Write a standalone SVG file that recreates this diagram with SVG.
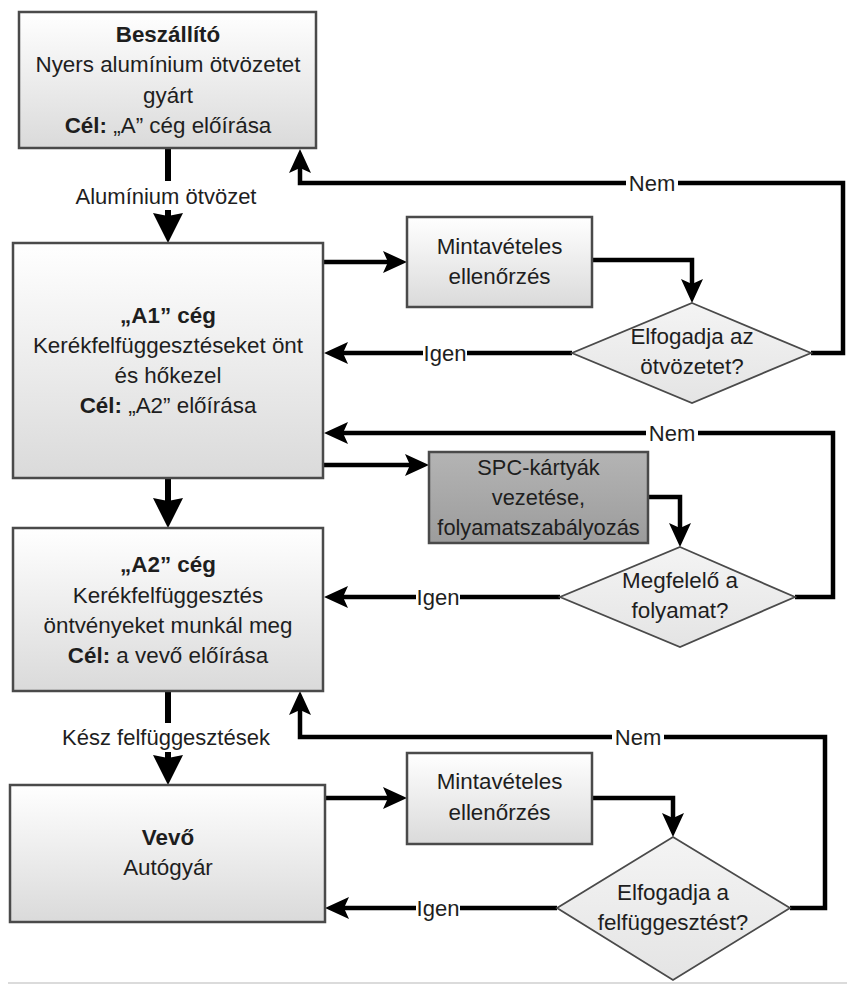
<svg xmlns="http://www.w3.org/2000/svg" width="847" height="985" viewBox="0 0 847 985">
  <defs>
    <linearGradient id="boxFill" x1="0" y1="0" x2="0" y2="1">
      <stop offset="0" stop-color="#ffffff"/>
      <stop offset="1" stop-color="#dadada"/>
    </linearGradient>
    <linearGradient id="darkFill" x1="0" y1="0" x2="0" y2="1">
      <stop offset="0" stop-color="#b4b4b4"/>
      <stop offset="1" stop-color="#9c9c9c"/>
    </linearGradient>
    <linearGradient id="diaFill" x1="0" y1="0" x2="0" y2="1">
      <stop offset="0" stop-color="#f4f4f4"/>
      <stop offset="1" stop-color="#e4e4e4"/>
    </linearGradient>
    <marker id="headL" markerUnits="userSpaceOnUse" viewBox="0 0 30 30" markerWidth="30" markerHeight="30" refX="18" refY="15" orient="auto">
      <path d="M0,0 L30,15 L0,30 L3,15 z" fill="#000"/>
    </marker>
    <marker id="headM" markerUnits="userSpaceOnUse" viewBox="0 0 24 22" markerWidth="24" markerHeight="22" refX="14" refY="11" orient="auto">
      <path d="M0,0 L24,11 L0,22 L5,11 z" fill="#000"/>
    </marker>
  </defs>
  <style>
    text { font-family: "Liberation Sans", Arial, sans-serif; font-size: 22.4px; fill: #1e1e1e; text-anchor: middle; }
    .b { font-weight: bold; }
    .lbl { font-size: 22px; }
    .sm { font-size: 21.8px; }
    .box { fill: url(#boxFill); stroke: #4a4a4a; stroke-width: 2.5; }
    .dark { fill: url(#darkFill); stroke: #4a4a4a; stroke-width: 2.5; }
    .dia { fill: url(#diaFill); stroke: #4a4a4a; stroke-width: 1.8; }
    .wire { fill: none; stroke: #000; stroke-width: 4.5; }
    .stem { fill: none; stroke: #000; stroke-width: 6; }
    .bg { fill: #fff; }
  </style>

  <rect width="847" height="985" fill="#fff"/>

  <!-- connectors -->
  <g id="connectors">
    <!-- main flow -->
    <line class="stem" x1="168" y1="148" x2="168" y2="181"/>
    <line class="stem" x1="168" y1="210" x2="168" y2="231" marker-end="url(#headL)"/>
    <line class="stem" x1="168" y1="478" x2="168" y2="516" marker-end="url(#headL)"/>
    <line class="stem" x1="168" y1="691" x2="168" y2="723"/>
    <line class="stem" x1="168" y1="752" x2="168" y2="773" marker-end="url(#headL)"/>

    <!-- A1 sampling loop -->
    <path class="wire" d="M323,262 H397" marker-end="url(#headM)"/>
    <path class="wire" d="M592,260 H692 V293" marker-end="url(#headM)"/>
    <path class="wire" d="M811,353 H843 V183 H300 V159" marker-end="url(#headM)"/>
    <path class="wire" d="M572,353 H334" marker-end="url(#headM)"/>

    <!-- SPC loop -->
    <path class="wire" d="M323,465 H419" marker-end="url(#headM)"/>
    <path class="wire" d="M648,497 H680 V537" marker-end="url(#headM)"/>
    <path class="wire" d="M795,597 H833 V433 H334" marker-end="url(#headM)"/>
    <path class="wire" d="M560,597 H334" marker-end="url(#headM)"/>

    <!-- customer sampling loop -->
    <path class="wire" d="M325,798 H397" marker-end="url(#headM)"/>
    <path class="wire" d="M592,798 H673 V827" marker-end="url(#headM)"/>
    <path class="wire" d="M790,908 H825 V737 H300 V701" marker-end="url(#headM)"/>
    <path class="wire" d="M557,908 H335" marker-end="url(#headM)"/>

    <!-- connector labels -->
    <text class="lbl" x="166" y="204">Alumínium ötvözet</text>
    <rect class="bg" x="626" y="171" width="52" height="24"/>
    <text class="lbl" x="652" y="191">Nem</text>
    <rect class="bg" x="423" y="341" width="44" height="24"/>
    <text class="lbl" x="445" y="361">Igen</text>
    <rect class="bg" x="646" y="421" width="52" height="24"/>
    <text class="lbl" x="672" y="441">Nem</text>
    <rect class="bg" x="416" y="585" width="44" height="24"/>
    <text class="lbl" x="438" y="605">Igen</text>
    <text class="lbl" x="166" y="745">Kész felfüggesztések</text>
    <rect class="bg" x="612" y="725" width="52" height="24"/>
    <text class="lbl" x="638" y="745">Nem</text>
    <rect class="bg" x="416" y="896" width="44" height="24"/>
    <text class="lbl" x="438" y="916">Igen</text>
  </g>

  <!-- nodes -->
  <g id="supplier">
    <rect class="box" x="19" y="12" width="297" height="136"/>
    <text class="b" x="168" y="42">Beszállító</text>
    <text x="168" y="72">Nyers alumínium ötvözetet</text>
    <text x="168" y="103">gyárt</text>
    <text x="168" y="133"><tspan class="b">Cél:</tspan> „A” cég előírása</text>
  </g>

  <g id="companyA1">
    <rect class="box" x="13" y="243" width="310" height="235"/>
    <text class="b" x="168" y="323">„A1” cég</text>
    <text x="168" y="353">Kerékfelfüggesztéseket önt</text>
    <text x="168" y="383">és hőkezel</text>
    <text x="168" y="413"><tspan class="b">Cél:</tspan> „A2” előírása</text>
  </g>

  <g id="sampling1">
    <rect class="box" x="407" y="217" width="185" height="90"/>
    <text x="499.5" y="254">Mintavételes</text>
    <text x="499.5" y="284">ellenőrzés</text>
  </g>

  <g id="decision1">
    <polygon class="dia" points="692,303 811,353 692,403 572,353"/>
    <text x="692" y="344">Elfogadja az</text>
    <text x="692" y="374">ötvözetet?</text>
  </g>

  <g id="spc">
    <rect class="dark" x="429" y="452" width="219" height="91"/>
    <text class="sm" x="538.5" y="475">SPC-kártyák</text>
    <text class="sm" x="538.5" y="505">vezetése,</text>
    <text class="sm" x="538.5" y="535">folyamatszabályozás</text>
  </g>

  <g id="decision2">
    <polygon class="dia" points="680,547 795,597 680,647 560,597"/>
    <text x="680" y="588">Megfelelő a</text>
    <text x="680" y="618">folyamat?</text>
  </g>

  <g id="companyA2">
    <rect class="box" x="13" y="528" width="310" height="163"/>
    <text class="b" x="168" y="572">„A2” cég</text>
    <text x="168" y="603">Kerékfelfüggesztés</text>
    <text x="168" y="633">öntvényeket munkál meg</text>
    <text x="168" y="663"><tspan class="b">Cél:</tspan> a vevő előírása</text>
  </g>

  <g id="customer">
    <rect class="box" x="10" y="785" width="315" height="137"/>
    <text class="b" x="168" y="845">Vevő</text>
    <text x="168" y="875">Autógyár</text>
  </g>

  <g id="sampling2">
    <rect class="box" x="407" y="753" width="185" height="91"/>
    <text x="499.5" y="789">Mintavételes</text>
    <text x="499.5" y="820">ellenőrzés</text>
  </g>

  <g id="decision3">
    <polygon class="dia" points="673,837 790,908 673,980 557,908"/>
    <text x="673" y="900">Elfogadja a</text>
    <text x="673" y="930">felfüggesztést?</text>
  </g>

  <line x1="8" y1="983" x2="847" y2="983" stroke="#cfcfcf" stroke-width="1.5"/>
</svg>
